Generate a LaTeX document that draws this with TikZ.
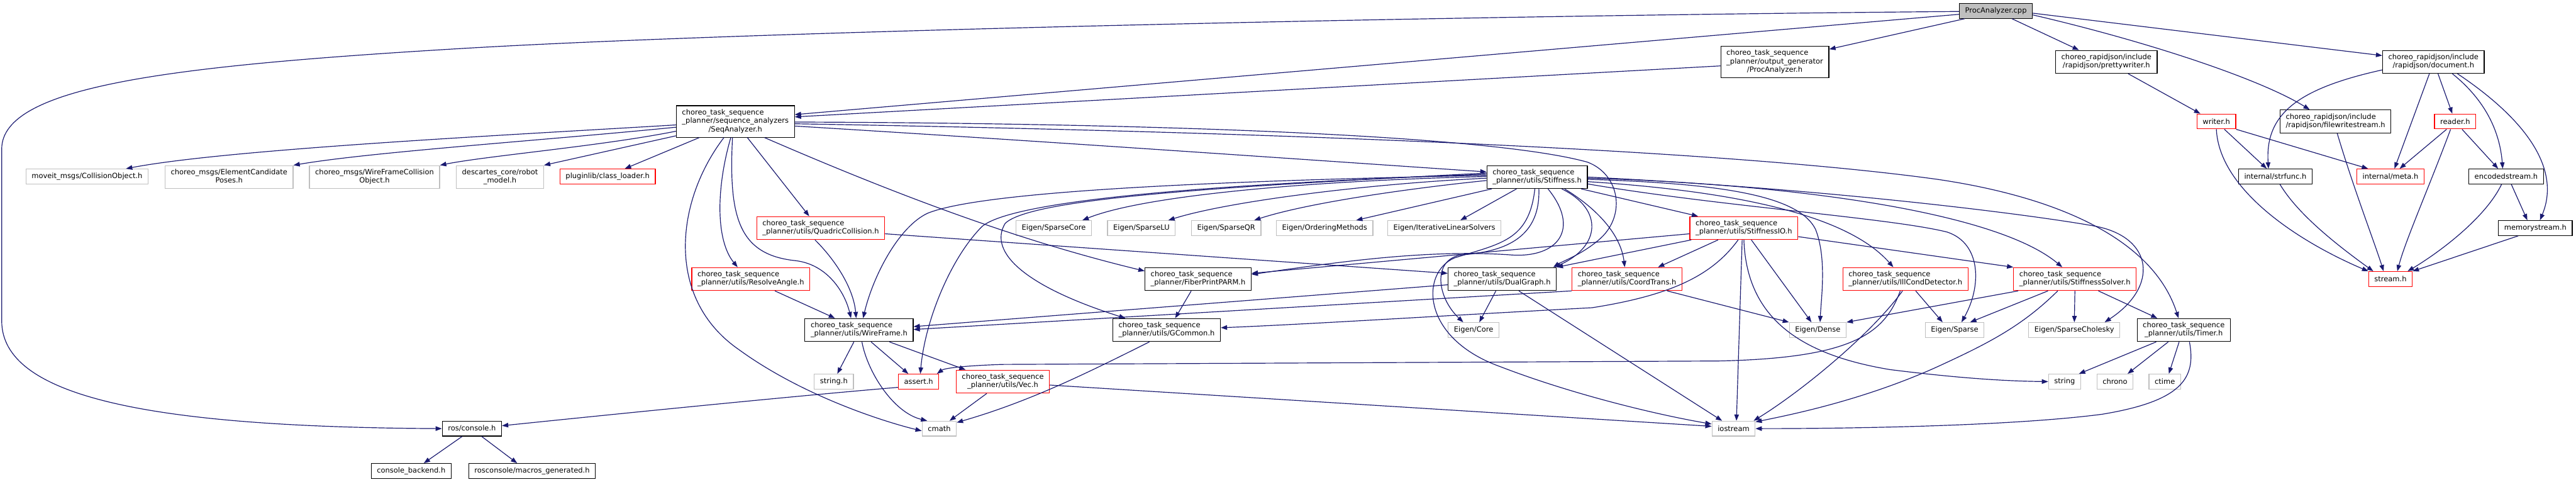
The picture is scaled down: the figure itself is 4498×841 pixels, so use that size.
\documentclass[tikz,border=0pt]{standalone}
\usepackage{fontspec}
\setmainfont{DejaVu Sans}
\usetikzlibrary{arrows.meta}
\definecolor{edgeblue}{HTML}{191970}
\definecolor{extgray}{HTML}{BFBFBF}
\newcommand{\twoline}[2]{\begin{tabular}{@{}l@{}}#1\\\multicolumn{1}{@{}c@{}}{#2}\end{tabular}}
\newcommand{\threeline}[3]{\begin{tabular}{@{}l@{}}#1\\#2\\\multicolumn{1}{@{}c@{}}{#3}\end{tabular}}
\begin{document}
\begin{tikzpicture}[
    x=1pt, y=-1pt, % 按像素坐标
    line width=1.3pt,
    every node/.style={
        font=\fontsize{12.6}{14.7}\selectfont,
        inner xsep=10pt, inner ysep=0pt,
        minimum height=26pt, fill=white, line width=1.3pt
    },
    filebox/.style={draw=black},
    extbox/.style={draw=extgray},
    cutbox/.style={draw=red},
    rootbox/.style={draw=black, fill=extgray},
    lines2/.style={minimum height=40pt},
    lines3/.style={minimum height=55pt},
    dep/.style={draw=edgeblue, -{Triangle[length=11pt,width=8pt]}}
]
  % 背景
  \fill[white] (0,0) rectangle (4498,841);
  \useasboundingbox (0,0) rectangle (4498,841);

  % 根文件
  \node[rootbox] (procCpp) at (3485,19) {ProcAnalyzer.cpp};
  \node[filebox,lines3] (procH) at (3099,108) {\threeline{choreo\_task\_sequence}{\_planner/output\_generator}{/ProcAnalyzer.h}};
  \node[filebox,lines2] (pretty) at (3678,108) {\twoline{choreo\_rapidjson/include}{/rapidjson/prettywriter.h}};
  \node[filebox,lines2] (docH) at (4249,108) {\twoline{choreo\_rapidjson/include}{/rapidjson/document.h}};
  \node[filebox,lines3] (seqAn) at (1284,212) {\threeline{choreo\_task\_sequence}{\_planner/sequence\_analyzers}{/SeqAnalyzer.h}};
  \node[cutbox] (writer) at (3870,212) {writer.h};
  \node[filebox,lines2] (fws) at (4078,212) {\twoline{choreo\_rapidjson/include}{/rapidjson/filewritestream.h}};
  \node[cutbox] (reader) at (4287,212) {reader.h};

  % 第四层
  \node[extbox] (moveit) at (152,308) {moveit\_msgs/CollisionObject.h};
  \node[extbox,lines2] (ecPoses) at (400,309) {\twoline{choreo\_msgs/ElementCandidate}{Poses.h}};
  \node[extbox,lines2] (wfColl) at (654,309) {\twoline{choreo\_msgs/WireFrameCollision}{Object.h}};
  \node[extbox,lines2] (robotModel) at (873,309) {\twoline{descartes\_core/robot}{\_model.h}};
  \node[cutbox] (classLoader) at (1061,308) {pluginlib/class\_loader.h};
  \node[filebox,lines2] (stiff) at (2684,309) {\twoline{choreo\_task\_sequence}{\_planner/utils/Stiffness.h}};
  \node[filebox] (strfunc) at (3973,308) {internal/strfunc.h};
  \node[cutbox] (meta) at (4174,308) {internal/meta.h};
  \node[filebox] (encoded) at (4376,308) {encodedstream.h};

  % 第五层
  \node[cutbox,lines2] (quadric) at (1433,398) {\twoline{choreo\_task\_sequence}{\_planner/utils/QuadricCollision.h}};
  \node[extbox] (sparseCore) at (1840,398) {Eigen/SparseCore};
  \node[extbox] (sparseLU) at (1993,398) {Eigen/SparseLU};
  \node[extbox] (sparseQR) at (2141,398) {Eigen/SparseQR};
  \node[extbox] (ordering) at (2313,398) {Eigen/OrderingMethods};
  \node[extbox] (iterative) at (2522,398) {Eigen/IterativeLinearSolvers};
  \node[cutbox,lines2] (stiffIO) at (3045,398) {\twoline{choreo\_task\_sequence}{\_planner/utils/StiffnessIO.h}};
  \node[filebox] (memstream) at (4427,398) {memorystream.h};

  % 第六层
  \node[cutbox,lines2] (resolve) at (1311,487) {\twoline{choreo\_task\_sequence}{\_planner/utils/ResolveAngle.h}};
  \node[filebox,lines2] (fiber) at (2092,487) {\twoline{choreo\_task\_sequence}{\_planner/FiberPrintPARM.h}};
  \node[filebox,lines2] (dual) at (2623,487) {\twoline{choreo\_task\_sequence}{\_planner/utils/DualGraph.h}};
  \node[cutbox,lines2] (coord) at (2841,487) {\twoline{choreo\_task\_sequence}{\_planner/utils/CoordTrans.h}};
  \node[cutbox,lines2] (illCond) at (3327,487) {\twoline{choreo\_task\_sequence}{\_planner/utils/IllCondDetector.h}};
  \node[cutbox,lines2] (solver) at (3623,487) {\twoline{choreo\_task\_sequence}{\_planner/utils/StiffnessSolver.h}};
  \node[cutbox] (stream) at (4174,487) {stream.h};

  % 第七层
  \node[filebox,lines2] (wireframe) at (1500,576) {\twoline{choreo\_task\_sequence}{\_planner/utils/WireFrame.h}};
  \node[filebox,lines2] (gcommon) at (2037,576) {\twoline{choreo\_task\_sequence}{\_planner/utils/GCommon.h}};
  \node[extbox] (eigenCore) at (2573,576) {Eigen/Core};
  \node[extbox] (eigenDense) at (3174,576) {Eigen/Dense};
  \node[extbox] (eigenSparse) at (3413,576) {Eigen/Sparse};
  \node[extbox] (cholesky) at (3622,576) {Eigen/SparseCholesky};
  \node[filebox,lines2] (timer) at (3813,576) {\twoline{choreo\_task\_sequence}{\_planner/utils/Timer.h}};

  % 底部
  \node[extbox] (stringH) at (1456,666) {string.h};
  \node[cutbox] (assertH) at (1604,666) {assert.h};
  \node[cutbox,lines2] (vec) at (1751,666) {\twoline{choreo\_task\_sequence}{\_planner/utils/Vec.h}};
  \node[extbox] (string) at (3605,666) {string};
  \node[extbox] (chrono) at (3693,666) {chrono};
  \node[extbox] (ctime) at (3780,666) {ctime};
  \node[filebox] (rosConsole) at (824,748) {ros/console.h};
  \node[extbox] (cmath) at (1640,748) {cmath};
  \node[extbox] (iostream) at (3027,748) {iostream};
  \node[filebox] (backend) at (718,822) {console\_backend.h};
  \node[filebox] (macros) at (929,822) {rosconsole/macros\_generated.h};

  % ProcAnalyzer.cpp 的依赖
  \draw[dep] ([yshift=-1pt]procCpp.west) .. controls (2500,28) and (1300,55) .. (800,85)
     .. controls (300,115) and (3,150) .. (3,260) -- (3,560)
     .. controls (3,690) and (250,745) .. (rosConsole.west);
  \draw[dep] ([yshift=-6pt]procCpp.west) -- ([yshift=12pt]seqAn.east);
  \draw[dep] ([xshift=10pt]procCpp.south west) -- ([yshift=-6pt]procH.north east);
  \draw[dep] ([xshift=28pt]procCpp.south) -- ([xshift=-48pt]pretty.north);
  \draw[dep] ([yshift=-7pt]procCpp.east) .. controls (3760,75) and (3950,140) .. ([xshift=-45pt]fws.north);
  \draw[dep] ([yshift=-4pt]procCpp.east) -- ([yshift=11pt]docH.west);
  \draw[dep] ([yshift=-7pt]procH.west) -- ([yshift=8pt]seqAn.east);

  % rapidjson
  \draw[dep] ([xshift=38pt]pretty.south) -- ([xshift=-28pt]writer.north);
  \draw[dep] ([yshift=-14pt]docH.west) .. controls (4010,155) and (3955,200) .. ([xshift=-12pt]strfunc.north);
  \draw[dep] ([xshift=-7pt]docH.south) -- ([xshift=7pt]meta.north);
  \draw[dep] ([xshift=8pt]docH.south) -- ([xshift=-5pt]reader.north);
  \draw[dep] ([xshift=33pt]docH.south) .. controls (4340,175) and (4365,230) .. ([xshift=-6pt]encoded.north);
  \draw[dep] ([xshift=42pt]docH.south) .. controls (4420,215) and (4470,300) .. ([xshift=8pt]memstream.north);
  \draw[dep] ([xshift=14pt]writer.south) -- ([xshift=-15pt]strfunc.north);
  \draw[dep] (writer.south east) -- ([xshift=-39pt]meta.north);
  \draw[dep] (writer.south) .. controls (3875,330) and (4010,420) .. (stream.north west);
  \draw[dep] ([xshift=3pt]fws.south) .. controls (4110,330) and (4145,420) .. ([xshift=-12pt]stream.north);
  \draw[dep] ([xshift=-15pt]reader.south) -- ([xshift=16pt]meta.north);
  \draw[dep] ([xshift=12pt]reader.south) -- ([xshift=-14pt]encoded.north);
  \draw[dep] ([xshift=-8pt]reader.south) .. controls (4240,330) and (4200,420) .. ([xshift=12pt]stream.north);
  \draw[dep] ([xshift=-8pt]encoded.south) .. controls (4340,380) and (4260,440) .. ([xshift=30pt]stream.north);
  \draw[dep] ([xshift=9pt]encoded.south) -- ([xshift=-14pt]memstream.north);
  \draw[dep] ([xshift=-30pt]memstream.south) -- (stream.north east);
  \draw[dep] ([xshift=8pt]strfunc.south) .. controls (4010,370) and (4070,420) .. ([xshift=-30pt]stream.north);

  % SeqAnalyzer.h
  \draw[dep] ([yshift=-6pt]seqAn.west) .. controls (900,235) and (400,260) .. ([xshift=68pt]moveit.north);
  \draw[dep] ([yshift=-10pt]seqAn.west) .. controls (950,245) and (650,265) .. (ecPoses.north east);
  \draw[dep] ([yshift=-17pt]seqAn.west) .. controls (1050,255) and (850,272) .. (wfColl.north east);
  \draw[dep] ([yshift=-25pt]seqAn.west) -- (robotModel.north east);
  \draw[dep] ([xshift=-63pt]seqAn.south) -- ([xshift=30pt]classLoader.north);
  \draw[dep] ([xshift=-20pt]seqAn.south) .. controls (1180,350) and (1160,520) .. (1290,610)
     .. controls (1400,690) and (1540,735) .. ([yshift=-4pt]cmath.west);
  \draw[dep] ([xshift=-8pt]seqAn.south) .. controls (1250,330) and (1250,420) .. ([xshift=-23pt]resolve.north);
  \draw[dep] ([xshift=-5pt]seqAn.south) .. controls (1272,380) and (1290,445) .. (1390,455)
     .. controls (1445,462) and (1475,510) .. ([xshift=-14pt]wireframe.north);
  \draw[dep] ([xshift=21pt]seqAn.south) -- ([xshift=-20pt]quadric.north);
  \draw[dep] ([xshift=51pt]seqAn.south) .. controls (1600,355) and (1800,425) .. ([yshift=14pt]fiber.west);
  \draw[dep] ([yshift=-8pt]seqAn.east) .. controls (1800,245) and (2300,280) .. ([yshift=9pt]stiff.west);
  \draw[dep] ([yshift=-1pt]seqAn.east) .. controls (2000,215) and (2600,235) .. (2772,283)
     .. controls (2830,305) and (2840,380) .. (2790,420)
     .. controls (2760,445) and (2730,455) .. ([xshift=-6pt]dual.north east);
  \draw[dep] ([yshift=-4pt]seqAn.east) .. controls (2200,230) and (3000,260) .. (3383,313)
     .. controls (3600,345) and (3760,420) .. ([xshift=-9pt]timer.north);

  % QuadricCollision.h / ResolveAngle.h
  \draw[dep] ([xshift=-10pt]quadric.south) .. controls (1455,450) and (1490,500) .. ([xshift=-5pt]wireframe.north);
  \draw[dep] ([yshift=-10pt]quadric.east) -- ([yshift=10pt]dual.west);
  \draw[dep] ([xshift=42pt]resolve.south) -- ([xshift=-42pt]wireframe.north);

  % Stiffness.h
  \draw[dep] ([yshift=1pt]stiff.west) .. controls (2300,315) and (2000,340) .. ([xshift=50pt]sparseCore.north);
  \draw[dep] ([yshift=-2pt]stiff.west) .. controls (2400,320) and (2150,350) .. ([xshift=47pt]sparseLU.north);
  \draw[dep] ([yshift=-6pt]stiff.west) .. controls (2450,330) and (2280,355) .. ([xshift=49pt]sparseQR.north);
  \draw[dep] ([xshift=9pt]stiff.south west) -- ([xshift=55pt]ordering.north);
  \draw[dep] ([xshift=-36pt]stiff.south) -- ([xshift=28pt]iterative.north);
  \draw[dep] ([yshift=3pt]stiff.west) .. controls (2000,318) and (1700,340) .. (1620,372)
     .. controls (1570,395) and (1525,480) .. ([xshift=7pt]wireframe.north);
  \draw[dep] ([yshift=5pt]stiff.west) .. controls (2100,322) and (1770,350) .. (1715,395)
     .. controls (1660,450) and (1615,560) .. ([xshift=3pt]assertH.north);
  \draw[dep] ([yshift=7pt]stiff.west) .. controls (2150,325) and (1800,345) .. (1755,390)
     .. controls (1725,440) and (1790,500) .. ([xshift=-72pt]gcommon.north);
  \draw[dep] ([xshift=19pt]stiff.south) .. controls (2760,400) and (2720,450) .. (2640,445)
     .. controls (2500,435) and (2350,455) .. ([yshift=8pt]fiber.east);
  \draw[dep] ([xshift=43pt]stiff.south) .. controls (2800,365) and (2795,430) .. ([xshift=-4pt]dual.north east);
  \draw[dep] ([xshift=48pt]stiff.south) .. controls (2790,365) and (2830,410) .. ([xshift=-4pt]coord.north);
  \draw[dep] ([xshift=3pt]stiff.south) .. controls (2690,420) and (2620,440) .. (2550,445)
     .. controls (2500,455) and (2510,520) .. ([xshift=-18pt]eigenCore.north);
  \draw[dep] ([xshift=-4pt]stiff.south) .. controls (2670,420) and (2620,425) .. (2540,450)
     .. controls (2480,475) and (2480,590) .. (2620,640)
     .. controls (2750,690) and (2900,725) .. ([yshift=8pt]iostream.west);
  \draw[dep] ([xshift=77pt]stiff.south) -- ([xshift=-80pt]stiffIO.north);
  \draw[dep] ([yshift=-4pt]stiff.east) .. controls (3000,320) and (3140,340) .. (3170,400)
     .. controls (3190,450) and (3180,520) .. ([xshift=4pt]eigenDense.north);
  \draw[dep] ([yshift=-8pt]stiff.east) .. controls (3050,335) and (3230,380) .. ([xshift=-21pt]illCond.north);
  \draw[dep] ([yshift=-2pt]stiff.east) .. controls (3100,320) and (3480,365) .. ([xshift=-22pt]solver.north);
  \draw[dep] (stiff.east) .. controls (3200,330) and (3550,375) .. (3660,395)
     .. controls (3760,415) and (3770,500) .. ([xshift=53pt]cholesky.north);
  \draw[dep] ([yshift=-12pt]stiff.east) .. controls (3000,360) and (3300,380) .. (3400,405)
     .. controls (3460,425) and (3460,500) .. ([xshift=12pt]eigenSparse.north);

  % StiffnessIO.h
  \draw[dep] ([yshift=-10pt]stiffIO.west) -- ([yshift=10pt]fiber.east);
  \draw[dep] ([xshift=3pt]stiffIO.south west) -- (dual.north east);
  \draw[dep] ([xshift=-45pt]stiffIO.south) -- ([xshift=54pt]coord.north);
  \draw[dep] ([xshift=-10pt]stiffIO.south) .. controls (2990,480) and (2920,515) .. (2780,537)
     .. controls (2500,552) and (2300,565) .. ([yshift=4pt]gcommon.east);
  \draw[dep] ([xshift=13pt]stiffIO.south) -- ([xshift=-11pt]eigenDense.north);
  \draw[dep] ([xshift=-3pt]stiffIO.south) -- ([xshift=5pt]iostream.north);
  \draw[dep] (stiffIO.south) .. controls (3050,560) and (3150,620) .. (3300,645)
     .. controls (3420,660) and (3500,665) .. (string.west);
  \draw[dep] ([yshift=-15pt]stiffIO.east) -- (solver.north west);

  % DualGraph.h / CoordTrans.h / FiberPrintPARM.h / GCommon.h
  \draw[dep] ([yshift=-10pt]dual.west) -- ([yshift=6pt]wireframe.east);
  \draw[dep] ([xshift=-11pt]dual.south) -- ([xshift=10pt]eigenCore.north);
  \draw[dep] ([xshift=29pt]dual.south) -- ([xshift=-20pt]iostream.north);
  \draw[dep] (coord.south west) -- ([yshift=1pt]wireframe.east);
  \draw[dep] ([xshift=70pt]coord.south) -- (eigenDense.north west);
  \draw[dep] ([xshift=-12pt]fiber.south) -- ([xshift=15pt]gcommon.north);
  \draw[dep] ([xshift=-30pt]gcommon.south) .. controls (1900,650) and (1800,700) .. ([yshift=-3pt]cmath.north east);

  % WireFrame.h / Vec.h / assert.h
  \draw[dep] ([xshift=-9pt]wireframe.south) -- ([xshift=6pt]stringH.north);
  \draw[dep] ([xshift=21pt]wireframe.south) -- ([xshift=-18pt]assertH.north);
  \draw[dep] ([xshift=53pt]wireframe.south) -- ([xshift=-65pt]vec.north);
  \draw[dep] ([xshift=5pt]wireframe.south) .. controls (1515,650) and (1560,720) .. ([xshift=-21pt]cmath.north);
  \draw[dep] ([xshift=-28pt]vec.south) -- ([xshift=18pt]cmath.north);
  \draw[dep] ([yshift=-6pt]vec.east) -- ([yshift=4pt]iostream.west);
  \draw[dep] ([yshift=-10pt]assertH.west) .. controls (1400,690) and (1100,720) .. ([yshift=5pt]rosConsole.east);

  % IllCondDetector.h / StiffnessSolver.h
  \draw[dep] ([xshift=-9pt]illCond.south) .. controls (3290,585) and (3230,625) .. (3000,630)
     -- (1750,636) .. controls (1690,638) and (1650,642) .. ([xshift=-4pt]assertH.north east);
  \draw[dep] ([xshift=-5pt]illCond.south) .. controls (3270,580) and (3150,680) .. ([xshift=35pt]iostream.north);
  \draw[dep] ([xshift=18pt]illCond.south) -- ([xshift=-21pt]eigenSparse.north);
  \draw[dep] ([xshift=-99pt]solver.south) -- (eigenDense.north east);
  \draw[dep] ([xshift=-47pt]solver.south) -- ([xshift=27pt]eigenSparse.north);
  \draw[dep] ([xshift=-30pt]solver.south) .. controls (3530,570) and (3470,600) .. (3383,640)
     .. controls (3250,700) and (3120,725) .. ([yshift=-2pt]iostream.north east);
  \draw[dep] (solver.south) -- (cholesky.north);
  \draw[dep] ([xshift=41pt]solver.south) -- ([xshift=-46pt]timer.north);

  % Timer.h
  \draw[dep] ([xshift=-48pt]timer.south) -- ([xshift=25pt]string.north);
  \draw[dep] ([xshift=-27pt]timer.south) -- ([xshift=22pt]chrono.north);
  \draw[dep] ([xshift=-8pt]timer.south) -- ([xshift=7pt]ctime.north);
  \draw[dep] ([xshift=10pt]timer.south) .. controls (3835,660) and (3810,700) .. (3670,723)
     .. controls (3500,745) and (3200,748) .. (iostream.east);

  % ros/console.h
  \draw[dep] ([xshift=-17pt]rosConsole.south) -- ([xshift=22pt]backend.north);
  \draw[dep] ([xshift=17pt]rosConsole.south) -- ([xshift=-26pt]macros.north);
\end{tikzpicture}
\end{document}
